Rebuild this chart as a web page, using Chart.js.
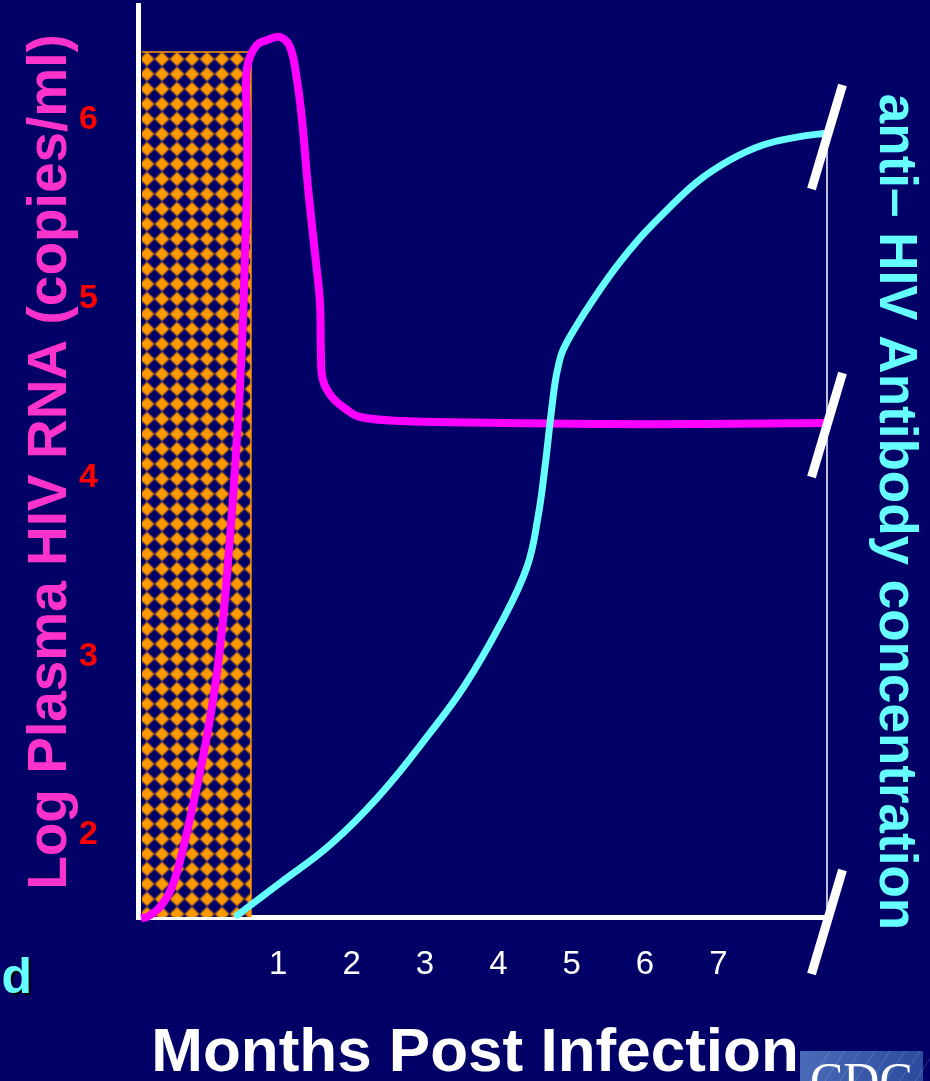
<!DOCTYPE html>
<html>
<head>
<meta charset="utf-8">
<script src="https://cdn.jsdelivr.net/npm/chart.js@4.4.1/dist/chart.umd.min.js"></script>
<style>
  html, body { margin: 0; padding: 0; background: #000066; overflow: hidden; }
  canvas { display: block; }
</style>
</head>
<body>
<canvas id="hivChart" width="930" height="1081"></canvas>
<script>
// tick labels
const monthTicks = [1, 2, 3, 4, 5, 6, 7];
const logTicks = [2, 3, 4, 5, 6];

// axis range (months / log copies)
const monthRange = [-0.912, 8.467];
const logRange = [1.541, 6.643];

// plasma HIV RNA (magenta)
const rnaMonths = [-0.871, -0.789, -0.612, -0.449, -0.312, -0.162, -0.012, 0.138, 0.247, 0.342, 0.410, 0.451,
  0.478, 0.519, 0.547, 0.574, 0.574, 0.560, 0.588, 0.710, 0.860, 1.024, 1.160, 1.255, 1.324, 1.405, 1.500,
  1.569, 1.582, 1.609, 1.732, 1.937, 2.114, 2.659, 4.023, 5.386, 6.749, 8.480];
const rnaLog = [1.536, 1.541, 1.597, 1.709, 1.899, 2.168, 2.464, 2.828, 3.203, 3.667, 4.042, 4.322,
  4.506, 4.881, 5.256, 5.625, 6.000, 6.185, 6.319, 6.420, 6.448, 6.464, 6.408, 6.224, 6.000, 5.625, 5.256,
  4.976, 4.697, 4.545, 4.450, 4.378, 4.338, 4.316, 4.305, 4.299, 4.299, 4.305];

// anti-HIV antibody (cyan), drawn on the same vertical scale
const antibodyMonths = [0.410, 1.024, 1.706, 2.387, 3.069, 3.546, 4.023, 4.391, 4.541, 4.636, 4.705,
  4.773, 4.821, 4.882, 5.072, 5.290, 5.618, 5.931, 6.245, 6.708, 7.158, 7.608, 8.072, 8.481];
const antibodyLevel = [1.541, 1.731, 1.944, 2.224, 2.571, 2.839, 3.175, 3.499, 3.779, 4.059, 4.305,
  4.529, 4.629, 4.713, 4.853, 4.993, 5.183, 5.340, 5.474, 5.653, 5.776, 5.860, 5.904, 5.927];

// window period (hatched block)
const windowMonths = [-0.86, 0.628, 0.628];
const windowLog = [6.38, 6.38, logRange[0]];

const NAVY = '#000066';
const ORANGE = '#FF9900';

function makePattern() {
    const tile = document.createElement('canvas');
    tile.width = 15;
    tile.height = 15;
    const t = tile.getContext('2d');
    t.fillStyle = NAVY;
    t.fillRect(0, 0, 15, 15);
    // soft halo then the diamond itself
    t.fillStyle = 'rgba(255,153,0,0.45)';
    t.beginPath();
    t.moveTo(7.5, -0.5); t.lineTo(15.5, 7.5); t.lineTo(7.5, 15.5); t.lineTo(-0.5, 7.5);
    t.closePath();
    t.fill();
    t.fillStyle = ORANGE;
    t.beginPath();
    t.moveTo(7.5, 1); t.lineTo(14, 7.5); t.lineTo(7.5, 14); t.lineTo(1, 7.5);
    t.closePath();
    t.fill();
    const p = document.getElementById('hivChart').getContext('2d').createPattern(tile, 'repeat');
    if (p.setTransform) p.setTransform(new DOMMatrix().translate(4.5, 6.5));
    return p;
}

function toPoints(xs, ys) {
    return xs.map((v, i) => ({ x: v, y: ys[i] }));
}

const decorPlugin = {
    id: 'decor',
    beforeDraw(chart) {
        const ctx = chart.ctx;
        ctx.save();
        ctx.fillStyle = NAVY;
        ctx.fillRect(0, 0, chart.width, chart.height);
        ctx.restore();
    },
    beforeDatasetsDraw(chart) {
        // thin right axis, from antibody end down to the bottom
        const ctx = chart.ctx;
        const area = chart.chartArea;
        const yTop = chart.scales.y.getPixelForValue(antibodyLevel[antibodyLevel.length - 1]);
        ctx.save();
        ctx.strokeStyle = '#FFFFFF';
        ctx.lineWidth = 1.5;
        ctx.beginPath();
        ctx.moveTo(area.right + 1, yTop);
        ctx.lineTo(area.right + 1, area.bottom);
        ctx.stroke();
        ctx.restore();
    },
    afterDatasetsDraw(chart) {
        // axis break marks
        const ctx = chart.ctx;
        const area = chart.chartArea;
        const y = chart.scales.y;
        const centers = [
            y.getPixelForValue(antibodyLevel[antibodyLevel.length - 1]) + 4,
            y.getPixelForValue(rnaLog[rnaLog.length - 1]) + 2,
            area.bottom + 5
        ];
        ctx.save();
        ctx.strokeStyle = '#FFFFFF';
        ctx.lineWidth = 9;
        centers.forEach(cy => {
            ctx.beginPath();
            ctx.moveTo(area.right + 1 - 15.5, cy + 52);
            ctx.lineTo(area.right + 1 + 15.5, cy - 52);
            ctx.stroke();
        });
        ctx.restore();
    },
    afterDraw(chart) {
        const ctx = chart.ctx;
        ctx.save();

        // left title
        ctx.font = 'bold 55px "Liberation Sans", Arial, sans-serif';
        ctx.fillStyle = '#FF33CC';
        ctx.textAlign = 'center';
        ctx.textBaseline = 'alphabetic';
        ctx.save();
        ctx.translate(66, 462);
        ctx.rotate(-Math.PI / 2);
        ctx.fillText('Log Plasma HIV RNA (copies/ml)', 0, 0);
        ctx.restore();

        // right title
        ctx.font = 'bold 53px "Liberation Sans", Arial, sans-serif';
        ctx.fillStyle = '#66FFFF';
        ctx.save();
        ctx.translate(880, 512);
        ctx.rotate(Math.PI / 2);
        ctx.fillText('anti\u2013 HIV Antibody concentration', 0, 0);
        ctx.restore();

        // bottom title
        ctx.font = 'bold 62px "Liberation Sans", Arial, sans-serif';
        ctx.fillStyle = '#FFFFFF';
        ctx.fillText('Months Post Infection', 475, 1071);

        // stray "d" from the slide
        ctx.font = 'bold 50px "Liberation Sans", Arial, sans-serif';
        ctx.textAlign = 'right';
        ctx.fillStyle = '#000000';
        ctx.fillText('d', 34, 995);
        ctx.fillStyle = '#66FFFF';
        ctx.fillText('d', 32, 993);

        // CDC logo corner
        const g = ctx.createLinearGradient(800, 1051, 923, 1081);
        g.addColorStop(0, '#4a6cb8');
        g.addColorStop(1, '#2a4a9c');
        ctx.fillStyle = g;
        ctx.fillRect(800, 1051, 123, 30);
        ctx.strokeStyle = 'rgba(255,255,255,0.18)';
        ctx.lineWidth = 1;
        for (let k = 0; k < 8; k++) {
            ctx.beginPath();
            ctx.moveTo(810 + k * 15, 1081);
            ctx.lineTo(830 + k * 15, 1051);
            ctx.stroke();
        }
        ctx.beginPath();
        ctx.rect(800, 1051, 123, 30);
        ctx.clip();
        ctx.font = '50px "Liberation Serif", "Times New Roman", serif';
        ctx.textAlign = 'left';
        ctx.fillStyle = '#FFFFFF';
        ctx.fillText('CDC', 810, 1097);

        ctx.restore();
    }
};

document.addEventListener('DOMContentLoaded', function() {
    const ctx = document.getElementById('hivChart').getContext('2d');

    new Chart(ctx, {
        type: 'line',
        data: {
            datasets: [
                {
                    label: 'Antibody',
                    data: toPoints(antibodyMonths, antibodyLevel),
                    borderColor: '#66FFFF',
                    borderWidth: 7,
                    pointRadius: 0,
                    tension: 0.4,
                    fill: false,
                    clip: false,
                    order: 0
                },
                {
                    label: 'HIV RNA',
                    data: toPoints(rnaMonths, rnaLog),
                    borderColor: '#FF00FF',
                    borderWidth: 8,
                    pointRadius: 0,
                    tension: 0.4,
                    fill: false,
                    clip: false,
                    order: 1
                },
                {
                    label: 'Window',
                    data: toPoints(windowMonths, windowLog),
                    borderColor: ORANGE,
                    borderWidth: 1.5,
                    backgroundColor: makePattern(),
                    pointRadius: 0,
                    tension: 0,
                    fill: 'start',
                    order: 2
                }
            ]
        },
        options: {
            responsive: false,
            animation: false,
            events: [],
            layout: {
                padding: { left: 0, top: 5, right: 104, bottom: 0 }
            },
            plugins: {
                legend: { display: false },
                tooltip: { enabled: false }
            },
            scales: {
                x: {
                    type: 'linear',
                    min: monthRange[0],
                    max: monthRange[1],
                    afterFit: function(scale) {
                        scale.height = 164;
                        scale.paddingLeft = 0;
                        scale.paddingRight = 0;
                    },
                    afterBuildTicks: function(scale) {
                        scale.ticks = monthTicks.map(v => ({ value: v }));
                    },
                    grid: { color: 'transparent', drawTicks: false },
                    border: { color: '#FFFFFF', width: 5 },
                    ticks: {
                        color: '#FFFFFF',
                        padding: 28,
                        font: { family: '"Liberation Sans", Arial, sans-serif', size: 33 },
                        callback: v => String(v)
                    }
                },
                y: {
                    type: 'linear',
                    min: logRange[0],
                    max: logRange[1],
                    afterFit: function(scale) {
                        scale.width = 138;
                        scale.paddingTop = 0;
                        scale.paddingBottom = 0;
                    },
                    afterBuildTicks: function(scale) {
                        scale.ticks = logTicks.map(v => ({ value: v }));
                    },
                    grid: { color: 'transparent', drawTicks: false },
                    border: { color: '#FFFFFF', width: 5 },
                    ticks: {
                        color: '#FF0000',
                        padding: 40,
                        font: { family: '"Liberation Sans", Arial, sans-serif', size: 34, weight: 'bold' },
                        callback: v => String(v)
                    }
                }
            }
        },
        plugins: [decorPlugin]
    });
});
</script>
</body>
</html>
